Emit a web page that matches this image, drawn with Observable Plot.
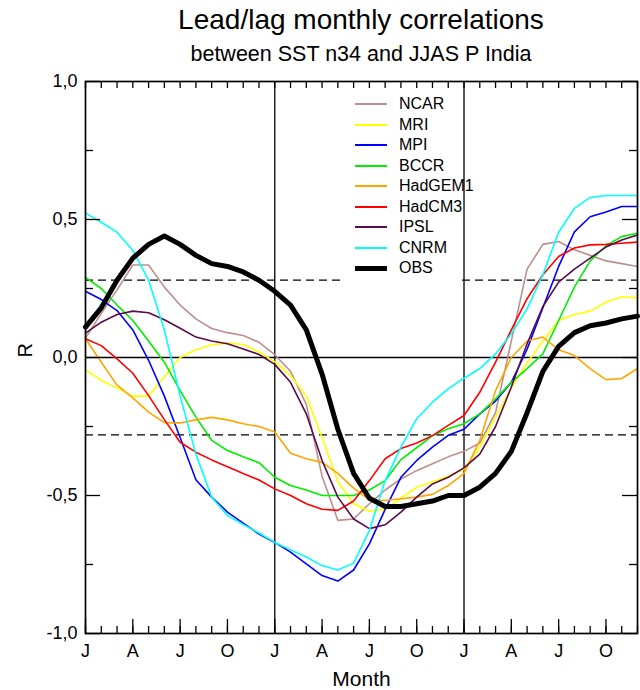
<!DOCTYPE html>
<html>
<head>
<meta charset="utf-8">
<script src="https://cdn.jsdelivr.net/npm/d3@7"></script>
<script src="https://cdn.jsdelivr.net/npm/@observablehq/plot@0.6"></script>
<style>
  body { margin: 0; background: #fff; font-family: "Liberation Sans", Arial, Helvetica, sans-serif; }
  #wrap { position: relative; width: 640px; height: 690px; overflow: hidden; }
  #title { position: absolute; left: 85px; width: 552px; top: 4px; text-align: center; font-size: 28px; line-height: 32px; color: #000; }
  #subtitle { position: absolute; left: 85px; width: 552px; top: 41px; text-align: center; font-size: 21.5px; line-height: 26px; color: #000; }
  #chart { position: absolute; left: 0; top: 70px; }
  #legend { position: absolute; left: 343px; top: 91px; width: 118px; height: 193px; background: #fff; }
  .item { position: absolute; left: 0; width: 118px; height: 20px; }
  .swatch { position: absolute; left: 12px; top: 10px; width: 32px; }
  .lab { position: absolute; left: 56px; top: 0; font-size: 16px; line-height: 20px; color: #000; white-space: nowrap; }
</style>
</head>
<body>
<div id="wrap">
  <div id="title">Lead/lag monthly correlations</div>
  <div id="subtitle">between SST n34 and JJAS P India</div>
  <div id="chart"></div>
  <div id="legend"></div>
</div>
<script>
// ---- data ----
const seriesNames = ["NCAR", "MRI", "MPI", "BCCR", "HadGEM1", "HadCM3", "IPSL", "CNRM", "OBS"];
const seriesColors = ["#bc8f8f", "#ffff00", "#0000ff", "#00ee00", "#ffa500", "#ff0000", "#5c0a4c", "#00ffff", "#000000"];

const ncar = [0.07, 0.16, 0.245, 0.335, 0.335, 0.255, 0.19, 0.14, 0.105, 0.09, 0.08, 0.055,
  0.01, -0.05, -0.17, -0.43, -0.59, -0.585, -0.53, -0.48, -0.44, -0.41, -0.385, -0.36,
  -0.34, -0.31, -0.20, 0.06, 0.32, 0.41, 0.42, 0.39, 0.37, 0.35, 0.34, 0.33];
const mri = [-0.045, -0.083, -0.11, -0.14, -0.14, -0.07, 0.0, 0.028, 0.046, 0.052, 0.047, 0.02,
  -0.015, -0.065, -0.14, -0.29, -0.45, -0.53, -0.557, -0.55, -0.51, -0.47, -0.45, -0.43,
  -0.405, -0.325, -0.216, -0.11, -0.02, 0.06, 0.134, 0.156, 0.168, 0.2, 0.22, 0.216];
const mpi = [0.24, 0.21, 0.17, 0.10, -0.01, -0.14, -0.29, -0.443, -0.506, -0.56, -0.60, -0.64,
  -0.67, -0.705, -0.748, -0.79, -0.81, -0.77, -0.675, -0.55, -0.434, -0.373, -0.325, -0.282,
  -0.26, -0.204, -0.158, -0.09, 0.03, 0.18, 0.33, 0.455, 0.51, 0.527, 0.547, 0.547];
const bccr = [0.29, 0.25, 0.19, 0.134, 0.06, -0.017, -0.12, -0.216, -0.30, -0.337, -0.36, -0.381,
  -0.434, -0.464, -0.48, -0.50, -0.50, -0.50, -0.48, -0.446, -0.37, -0.327, -0.283, -0.258,
  -0.24, -0.204, -0.15, -0.09, -0.04, 0.013, 0.134, 0.255, 0.35, 0.405, 0.438, 0.45];
const hadgem1 = [0.068, -0.017, -0.10, -0.146, -0.198, -0.236, -0.237, -0.226, -0.217, -0.226, -0.24, -0.25,
  -0.27, -0.347, -0.367, -0.38, -0.42, -0.473, -0.516, -0.518, -0.512, -0.506, -0.496, -0.464,
  -0.42, -0.30, -0.12, 0.0, 0.06, 0.074, 0.028, 0.007, -0.04, -0.08, -0.076, -0.04];
const hadcm3 = [0.068, 0.043, -0.005, -0.057, -0.138, -0.225, -0.307, -0.343, -0.371, -0.396, -0.42, -0.444,
  -0.476, -0.50, -0.53, -0.55, -0.554, -0.52, -0.446, -0.367, -0.33, -0.31, -0.283, -0.246,
  -0.21, -0.126, -0.017, 0.10, 0.213, 0.30, 0.366, 0.397, 0.408, 0.41, 0.414, 0.418];
const ipsl = [0.088, 0.128, 0.156, 0.168, 0.162, 0.137, 0.106, 0.074, 0.06, 0.05, 0.031, 0.011,
  -0.025, -0.09, -0.204, -0.373, -0.506, -0.585, -0.62, -0.606, -0.56, -0.506, -0.458, -0.434,
  -0.40, -0.35, -0.25, -0.107, 0.05, 0.185, 0.273, 0.32, 0.36, 0.40, 0.426, 0.444];
const cnrm = [0.523, 0.49, 0.454, 0.388, 0.28, 0.10, -0.14, -0.35, -0.506, -0.572, -0.605, -0.636,
  -0.67, -0.697, -0.723, -0.754, -0.77, -0.745, -0.627, -0.446, -0.325, -0.222, -0.162, -0.114,
  -0.075, -0.04, 0.013, 0.086, 0.176, 0.30, 0.454, 0.54, 0.58, 0.587, 0.587, 0.587];
const obs = [0.11, 0.18, 0.28, 0.36, 0.41, 0.44, 0.41, 0.37, 0.34, 0.33, 0.31, 0.28,
  0.24, 0.19, 0.10, -0.06, -0.26, -0.42, -0.51, -0.54, -0.54, -0.53, -0.52, -0.50,
  -0.50, -0.47, -0.42, -0.34, -0.20, -0.05, 0.04, 0.09, 0.115, 0.125, 0.14, 0.15];

const seriesValues = [ncar, mri, mpi, bccr, hadgem1, hadcm3, ipsl, cnrm, obs];

const labelMonths = [0, 3, 6, 9, 12, 15, 18, 21, 24, 27, 30, 33];
const monthLabels = ["J", "A", "J", "O", "J", "A", "J", "O", "J", "A", "J", "O"];
const yearStarts = [12, 24];
const significance = [0.28, -0.28];
const yMajor = [-1, -0.5, 0, 0.5, 1];
const yMinor = [-0.75, -0.25, 0.25, 0.75];

// ---- build tables ----
const rows = [];
seriesNames.forEach((name, k) => {
  seriesValues[k].forEach((r, m) => rows.push({ name, month: m, r }));
});
const modelRows = rows.filter(d => d.name !== "OBS");
const obsRows = rows.filter(d => d.name === "OBS");
const allMonths = d3.range(obs.length);
const xLabelData = labelMonths.map((m, i) => ({ m, t: monthLabels[i] }));
const fmtR = v => (v < 0 ? "-" : "") + Math.abs(v).toFixed(1).replace(".", ",");

const W = 640, H = 620, mT = 11, mB = 57, mL = 85, mR = 3;
const fw = W - mL - mR, fh = H - mT - mB;
const font = '"Liberation Sans", Arial, Helvetica, sans-serif';

const chart = Plot.plot({
  width: W, height: H,
  marginTop: mT, marginBottom: mB, marginLeft: mL, marginRight: mR,
  x: { domain: [0, 35], axis: null },
  y: { domain: [-1, 1], axis: null },
  color: { domain: seriesNames, range: seriesColors },
  style: { fontFamily: font, fontSize: "18px", color: "#000", background: "#fff", overflow: "visible" },
  marks: [
    Plot.ruleY(significance, { stroke: "#000", strokeWidth: 1.3, strokeDasharray: "8,5" }),
    Plot.ruleY([0], { stroke: "#000", strokeWidth: 1.3 }),
    Plot.ruleX(yearStarts, { stroke: "#222", strokeWidth: 1.5 }),
    Plot.line(modelRows, { x: "month", y: "r", z: "name", stroke: "name", strokeWidth: 1.6, strokeLinejoin: "round" }),
    Plot.line(obsRows, { x: "month", y: "r", stroke: "#000", strokeWidth: 5, strokeLinejoin: "round" }),
    // ticks: bottom (minor all months, major at labels), top
    Plot.tickX(allMonths, { x: d => d, stroke: "#000", strokeWidth: 1.3, insetTop: fh - 7 }),
    Plot.tickX(labelMonths, { x: d => d, stroke: "#000", strokeWidth: 1.3, insetTop: fh - 14 }),
    Plot.tickX(allMonths, { x: d => d, stroke: "#000", strokeWidth: 1.3, insetBottom: fh - 7 }),
    // ticks: left and right
    Plot.tickY(yMajor, { y: d => d, stroke: "#000", strokeWidth: 1.3, insetRight: fw - 15 }),
    Plot.tickY(yMinor, { y: d => d, stroke: "#000", strokeWidth: 1.3, insetRight: fw - 8 }),
    Plot.tickY(yMajor, { y: d => d, stroke: "#000", strokeWidth: 1.3, insetLeft: fw - 15 }),
    Plot.tickY(yMinor, { y: d => d, stroke: "#000", strokeWidth: 1.3, insetLeft: fw - 8 }),
    Plot.frame({ stroke: "#000", strokeWidth: 1.7 }),
    // labels
    Plot.text(yMajor, { y: d => d, text: fmtR, frameAnchor: "left", dx: -8, textAnchor: "end", lineAnchor: "middle", fontSize: 18 }),
    Plot.text(xLabelData, { x: "m", text: "t", frameAnchor: "bottom", dy: 18, lineAnchor: "middle", fontSize: 18 }),
    Plot.text(["Month"], { frameAnchor: "bottom", dy: 46, lineAnchor: "middle", fontSize: 21 }),
    Plot.text(["R"], { frameAnchor: "left", dx: -60, rotate: -90, lineAnchor: "middle", fontSize: 20 })
  ]
});
document.getElementById("chart").appendChild(chart);

// ---- legend ----
const legend = document.getElementById("legend");
seriesNames.forEach((name, k) => {
  const item = document.createElement("div");
  item.className = "item";
  item.style.top = (3 + k * 20.5) + "px";
  const sw = document.createElement("div");
  sw.className = "swatch";
  const lw = name === "OBS" ? 5 : 2;
  sw.style.height = lw + "px";
  sw.style.marginTop = (-lw / 2) + "px";
  sw.style.background = seriesColors[k];
  const lab = document.createElement("div");
  lab.className = "lab";
  lab.textContent = name;
  item.appendChild(sw);
  item.appendChild(lab);
  legend.appendChild(item);
});
</script>
</body>
</html>
